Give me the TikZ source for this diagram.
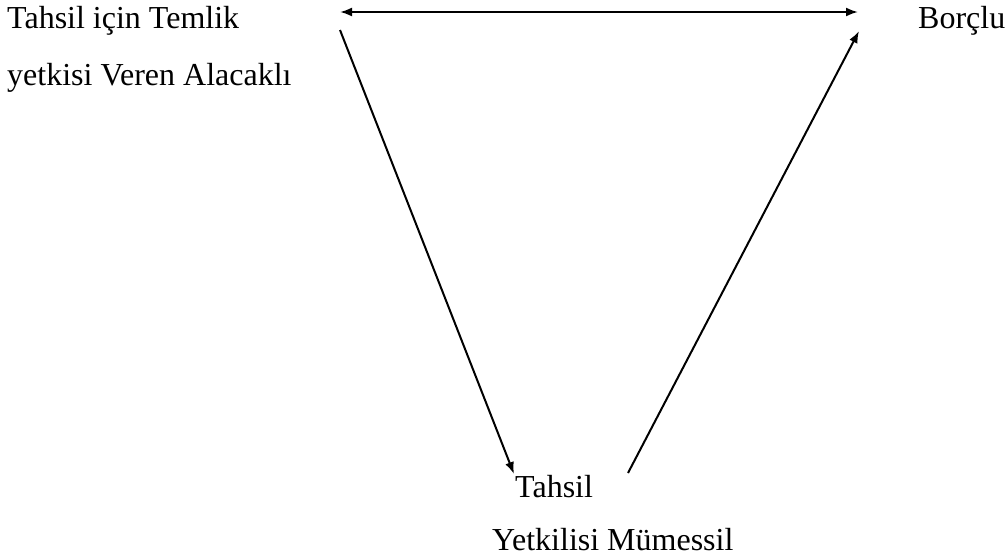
\documentclass[tikz,border=0pt]{standalone}
\usepackage{fontspec}
\setmainfont{Liberation Serif}
\usetikzlibrary{arrows.meta, positioning}
\tikzset{
  label/.style = {anchor=base west, inner sep=0pt, font=\fontsize{32}{38}\selectfont},
  link/.style  = {line width=2pt, -{Latex[length=12pt, width=9pt]}},
}

\begin{document}
\begin{tikzpicture}[x=1pt, y=-1pt]
  \useasboundingbox (0,0) rectangle (1005,557);

  % --- parties -------------------------------------------------------------
  \node[label] (alacakli1) at (7,28) {Tahsil için Temlik};
  \node[label] (alacakli2) at (7,85) {yetkisi Veren Alacaklı};
  \node[label] (borclu) at (918,28) {Borçlu};
  \node[label] (mumessil1) at (515,497) {Tahsil};
  \node[label] (mumessil2) at (492,550) {Yetkilisi Mümessil};

  % --- arrow ends ------------------------------------------------------------
  \coordinate (hl) at (340,12);
  \coordinate (hr) at (858,12);
  \coordinate (dl) at (340,30);
  \coordinate (dm) at (514,474);
  \coordinate (um) at (628,473);
  \coordinate (ur) at (859,31);

  % --- links -----------------------------------------------------------------
  \draw[link, {Latex[length=12pt, width=9pt]}-{Latex[length=12pt, width=9pt]}] (hl) -- (hr);
  \draw[link] (dl) -- (dm);
  \draw[link] (um) -- (ur);
\end{tikzpicture}
\end{document}
